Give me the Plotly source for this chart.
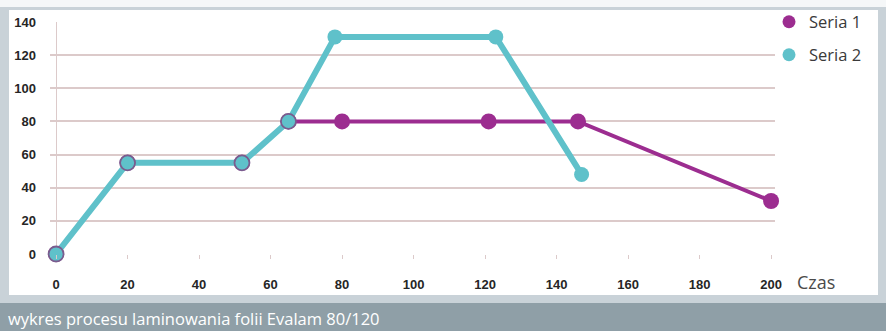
import plotly.graph_objects as go

# Process data: time (x) vs. value (y)
s1_name = "Seria 1"
s1_x = [0, 20, 52, 65, 80, 121, 146, 200]
s1_y = [0, 55, 55, 80, 80, 80, 80, 32]

s2_name = "Seria 2"
s2_x = [0, 20, 52, 65, 78, 123, 147]
s2_y = [0, 55, 55, 80, 131, 131, 48]

x_ticks = [0, 20, 40, 60, 80, 100, 120, 140, 160, 180, 200]
y_ticks = [0, 20, 40, 60, 80, 100, 120, 140]

x_title = "Czas"
caption = "wykres procesu laminowania folii Evalam 80/120"

PURPLE = "#9c2d90"
TEAL = "#5fc1ca"
RING = "#7a5c8e"
GRID = "#dccaca"
GRID_TEAL = "#9ed4d9"
FRAME = "#c9d2d8"
CAPTION_BG = "#8f9fa7"

W, H = 886, 331
ML, MR, MT, MB = 50, 111, 22, 77
PW, PH = W - ML - MR, H - MT - MB


def px(xp):
    return (xp - ML) / PW


def py(yp):
    return (H - MB - yp) / PH


# teal points that coincide with a Seria 1 point get a darker ring
s1_points = set(zip(s1_x, s1_y))
s2_ring = [1.8 if (x, y) in s1_points else 0 for x, y in zip(s2_x, s2_y)]

fig = go.Figure()

# Series 1 (drawn first so its markers sit behind series 2)
fig.add_trace(go.Scatter(
    x=s1_x, y=s1_y, mode="lines+markers", name=s1_name,
    line=dict(color=PURPLE, width=4),
    marker=dict(color=PURPLE, size=16),
    showlegend=False, cliponaxis=False, hoverinfo="skip",
))
# Series 2
fig.add_trace(go.Scatter(
    x=s2_x, y=s2_y, mode="lines+markers", name=s2_name,
    line=dict(color=TEAL, width=6),
    marker=dict(color=TEAL, size=15, line=dict(color=RING, width=s2_ring)),
    showlegend=False, cliponaxis=False, hoverinfo="skip",
))

# Legend entries (marker only)
fig.add_trace(go.Scatter(
    x=[None], y=[None], mode="markers", name=s1_name,
    marker=dict(color=PURPLE, size=13), legend="legend",
))
fig.add_trace(go.Scatter(
    x=[None], y=[None], mode="markers", name=s2_name,
    marker=dict(color=TEAL, size=13), legend="legend2",
))

shapes = [
    # light strip at the very top
    dict(type="rect", xref="paper", yref="paper", x0=px(0), x1=px(W), y0=py(7), y1=py(0),
         fillcolor="#f5f7f8", line_width=0, layer="below"),
    # white chart panel
    dict(type="rect", xref="paper", yref="paper", x0=px(9), x1=px(878), y0=py(295), y1=py(10),
         fillcolor="white", line_width=0, layer="below"),
    # caption bar
    dict(type="rect", xref="paper", yref="paper", x0=px(0), x1=px(W), y0=py(H), y1=py(303),
         fillcolor=CAPTION_BG, line_width=0, layer="below"),
    # teal highlighted grid lines
    dict(type="line", xref="paper", yref="y", x0=0, x1=1, y0=100, y1=100,
         line=dict(color=GRID_TEAL, width=1.5), layer="below"),
    dict(type="line", xref="x", yref="y", x0=127, x1=201.1, y0=120, y1=120,
         line=dict(color=GRID_TEAL, width=1.5), layer="below"),
]

annotations = [
    dict(text=x_title, xref="paper", yref="paper", x=px(795), y=py(282),
         xanchor="left", yanchor="middle", showarrow=False,
         font=dict(family="Open Sans", size=18, color="#4a4a4a")),
    dict(text=caption, xref="paper", yref="paper", x=px(6), y=py(318),
         xanchor="left", yanchor="middle", showarrow=False,
         font=dict(family="Open Sans", size=16.5, color="white")),
]

tick_font = dict(family="Liberation Sans", size=13, color="#262626", weight="bold")

fig.update_layout(
    width=W, height=H,
    margin=dict(l=ML, r=MR, t=MT, b=MB, pad=0, autoexpand=False),
    paper_bgcolor=FRAME,
    plot_bgcolor="rgba(0,0,0,0)",
    shapes=shapes,
    annotations=annotations,
    xaxis=dict(
        range=[-1.7, 201.1], tickvals=x_ticks, ticktext=[str(v) for v in x_ticks],
        showgrid=False, zeroline=True, zerolinecolor=GRID, zerolinewidth=1,
        ticks="outside", ticklen=4, tickcolor=GRID, ticklabelstandoff=14,
        tickfont=tick_font, showline=False, fixedrange=True, automargin=False,
    ),
    yaxis=dict(
        range=[0, 140], tickvals=y_ticks, ticktext=[str(v) for v in y_ticks],
        showgrid=True, gridcolor=GRID, gridwidth=1.5, zeroline=False,
        ticks="", ticklabelstandoff=13, tickfont=tick_font, fixedrange=True,
        automargin=False,
    ),
    legend=dict(x=px(769), y=py(22), xanchor="left", yanchor="middle",
                bgcolor="rgba(0,0,0,0)", itemwidth=30,
                font=dict(family="Open Sans", size=16.5, color="#3a3a3a")),
    legend2=dict(x=px(769), y=py(55), xanchor="left", yanchor="middle",
                 bgcolor="rgba(0,0,0,0)", itemwidth=30,
                 font=dict(family="Open Sans", size=16.5, color="#3a3a3a")),
    hovermode=False,
)

fig.write_html("out.html")
